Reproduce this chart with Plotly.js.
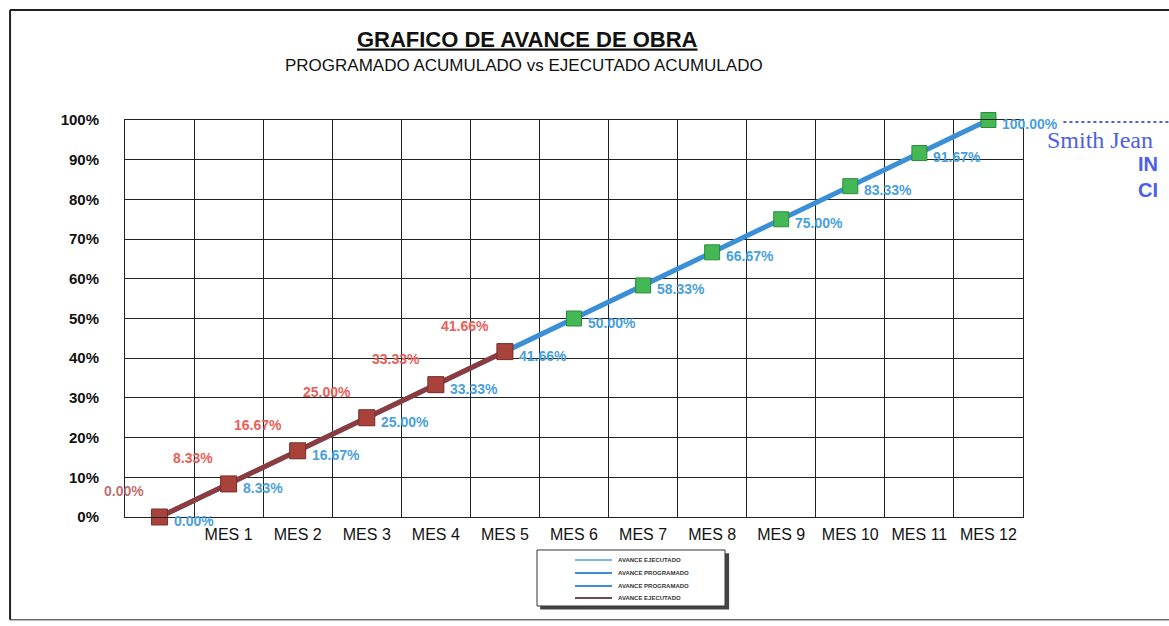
<!DOCTYPE html>
<html>
<head>
<meta charset="utf-8">
<script src="https://cdn.plot.ly/plotly-3.0.1.min.js"></script>
<style>body{margin:0;background:#fff}</style>
</head>
<body>
<div id="chart" style="width:1169px;height:626px"></div>
<script>
// months (0 = start), tick labels
const months = [0, 1, 2, 3, 4, 5, 6, 7, 8, 9, 10, 11, 12];
const monthLabels = ['MES 1', 'MES 2', 'MES 3', 'MES 4', 'MES 5', 'MES 6', 'MES 7', 'MES 8', 'MES 9', 'MES 10', 'MES 11', 'MES 12'];

// programado acumulado (fraction)
const programado = [0, 0.0833, 0.1667, 0.25, 0.3333, 0.4166, 0.50, 0.5833, 0.6667, 0.75, 0.8333, 0.9167, 1.00];
const programadoTxt = ['0.00%', '8.33%', '16.67%', '25.00%', '33.33%', '41.66%', '50.00%', '58.33%', '66.67%', '75.00%', '83.33%', '91.67%', '100.00%'];

// ejecutado acumulado (fraction)
const ejecMonths = [0, 1, 2, 3, 4, 5];
const ejecutado = [0, 0.0833, 0.1667, 0.25, 0.3333, 0.4166];
const ejecutadoTxt = ['0.00%', '8.33%', '16.67%', '25.00%', '33.33%', '41.66%'];

// legend entries as printed on the sheet
const legendNames = ['AVANCE EJECUTADO', 'AVANCE PROGRAMADO', 'AVANCE PROGRAMADO', 'AVANCE EJECUTADO'];
const legendColors = ['#7fb6e3', '#3a8fd6', '#3a8fd6', '#6b4a55'];

const font = 'Liberation Sans, Arial, sans-serif';

const traces = [
  {
    x: months, y: programado,
    type: 'scatter', mode: 'lines+markers',
    line: {color: '#3a8fd6', width: 5},
    marker: {symbol: 'square', size: 15, color: '#44b855', line: {color: '#2c8a3c', width: 1}},
    cliponaxis: false, hoverinfo: 'skip'
  },
  {
    x: ejecMonths, y: ejecutado,
    type: 'scatter', mode: 'lines+markers',
    line: {color: '#8e3b3d', width: 5},
    marker: {symbol: 'square', size: 16, color: '#a8423b', line: {color: '#7a3030', width: 1}},
    cliponaxis: false, hoverinfo: 'skip'
  }
];

const annotations = [];
programado.forEach((v, i) => {
  annotations.push({
    x: months[i], y: v, xref: 'x', yref: 'y', text: programadoTxt[i], showarrow: false,
    xanchor: 'left', yanchor: 'middle', xshift: 12, yshift: -4,
    font: {family: font, size: 14, color: '#4a9fdc', weight: 'bold'}
  });
});
ejecutado.forEach((v, i) => {
  annotations.push({
    x: ejecMonths[i], y: v, xref: 'x', yref: 'y', text: ejecutadoTxt[i], showarrow: false,
    xanchor: 'right', yanchor: 'bottom', xshift: -14, yshift: 16,
    font: {family: font, size: 14, color: i === 0 ? '#c07070' : '#e8605a', weight: 'bold'}
  });
});
annotations.push({
  xref: 'paper', yref: 'paper', x: 0.444, y: 1.138, xanchor: 'center', yanchor: 'middle',
  text: 'PROGRAMADO ACUMULADO vs EJECUTADO ACUMULADO', showarrow: false,
  font: {family: font, size: 17, color: '#111'}
});
annotations.push({
  xref: 'paper', yref: 'paper', x: 1.025, y: 0.95, xanchor: 'left', yanchor: 'middle',
  text: 'Smith Jean', showarrow: false,
  font: {family: 'Liberation Serif, serif', size: 24, color: '#4d5fe6'}
});
annotations.push({
  xref: 'paper', yref: 'paper', x: 1.153, y: 0.856, xanchor: 'right', yanchor: 'middle',
  text: 'IN<br>CI', showarrow: false, align: 'right',
  font: {family: font, size: 20, color: '#4d5fe6', weight: 'bold'}
});

// legend box (drawn by hand to keep the printed proportions)
const legX0 = 0.4588, legX1 = 0.6682, legY0 = -0.0831, legY1 = -0.2242;
const legRows = [-0.1083, -0.1411, -0.1738, -0.2040];
const shapes = [
  // outer frame
  {type: 'line', xref: 'paper', yref: 'paper', x0: -0.128, x1: -0.128, y0: 1.277, y1: -0.259, line: {color: '#222', width: 2}},
  {type: 'line', xref: 'paper', yref: 'paper', x0: -0.128, x1: 1.17, y0: 1.277, y1: 1.277, line: {color: '#222', width: 2}},
  {type: 'line', xref: 'paper', yref: 'paper', x0: -0.128, x1: 1.17, y0: -0.259, y1: -0.259, line: {color: '#222', width: 1}},
  // stamp dotted line
  {type: 'line', xref: 'paper', yref: 'paper', x0: 1.045, x1: 1.17, y0: 0.995, y1: 0.995, line: {color: '#4d5fe6', width: 2, dash: 'dot'}},
  // legend shadow + box
  {type: 'rect', xref: 'paper', yref: 'paper', x0: legX0 + 0.0035, x1: legX1 + 0.0045, y0: legY0 - 0.008, y1: legY1 - 0.009, fillcolor: '#444', line: {width: 0}},
  {type: 'rect', xref: 'paper', yref: 'paper', x0: legX0, x1: legX1, y0: legY0, y1: legY1, fillcolor: '#fff', line: {color: '#333', width: 1}}
];
legendNames.forEach((n, i) => {
  shapes.push({type: 'line', xref: 'paper', yref: 'paper', x0: 0.5011, x1: 0.5423, y0: legRows[i], y1: legRows[i], line: {color: legendColors[i], width: 2}});
  annotations.push({
    xref: 'paper', yref: 'paper', x: 0.5468, y: legRows[i], xanchor: 'left', yanchor: 'middle',
    text: n, showarrow: false, font: {family: font, size: 6, color: '#333', weight: 'bold'}
  });
});

Plotly.newPlot('chart', traces, {
  width: 1169, height: 626,
  margin: {l: 125, r: 146, t: 120, b: 109},
  paper_bgcolor: '#ffffff', plot_bgcolor: '#ffffff',
  font: {family: font, color: '#111'},
  showlegend: false,
  title: {
    text: '<u>GRAFICO DE AVANCE DE OBRA</u>',
    x: 0.451, xanchor: 'center', y: 0.938, yanchor: 'middle',
    font: {family: font, size: 22, color: '#111', weight: 'bold'}
  },
  xaxis: {
    range: [-0.5, 12.5], tickvals: months.slice(1), ticktext: monthLabels,
    showgrid: false, zeroline: false, showline: true, mirror: true, linecolor: '#222', linewidth: 1,
    ticks: '', ticklabelstandoff: 3, automargin: false, tickangle: 0,
    tickfont: {family: font, size: 16, color: '#111'},
    minor: {tick0: 0.5, dtick: 1, showgrid: true, gridcolor: '#222', gridwidth: 1, ticks: ''}
  },
  yaxis: {
    range: [0, 1], dtick: 0.1, tickformat: '.0%',
    showgrid: true, gridcolor: '#222', gridwidth: 1, zeroline: false,
    showline: true, mirror: true, linecolor: '#222', linewidth: 1,
    ticks: '', ticklabelstandoff: 22, automargin: false,
    tickfont: {family: font, size: 15, color: '#111', weight: 'bold'}
  },
  annotations: annotations,
  shapes: shapes
}, {staticPlot: true});
</script>
</body>
</html>
